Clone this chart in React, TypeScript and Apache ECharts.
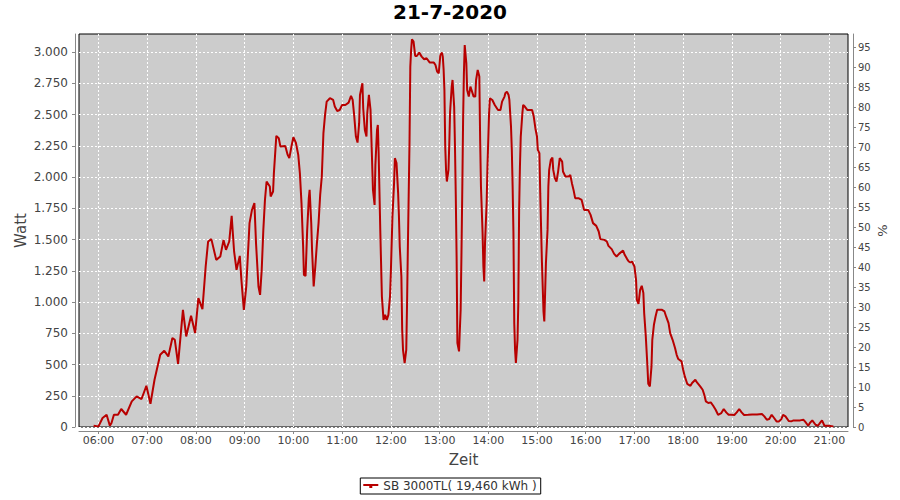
import React, { useEffect, useRef } from "react";
import * as echarts from "echarts";

const chartTitle = "21-7-2020";
const seriesName = "SB 3000TL( 19,460 kWh )";
const xAxisName = "Zeit";
const leftAxisName = "Watt";
const rightAxisName = "%";

// minutes since midnight
const timeMinutes = [
  354, 360, 365, 370, 374, 376, 379, 384, 388, 394,
  401, 407, 413, 419, 424, 429, 436, 441, 446, 451,
  454, 458, 464, 468, 474, 479, 483, 488, 492, 495,
  499, 505, 510, 514, 517, 521, 524, 527, 530, 534,
  536, 539, 542, 546, 549, 552, 554, 557, 559, 561,
  563, 565, 567, 571, 572, 575, 576, 579, 582, 584,
  590, 593, 595, 598, 600, 603, 606, 608, 610, 612,
  613, 615, 617, 619, 620, 622, 623, 625, 627, 629,
  631, 633, 635, 637, 639, 641, 645, 649, 651, 654,
  657, 660, 664, 668, 671, 673, 675, 677, 679, 681,
  682, 685, 686, 688, 690, 691, 693, 695, 696, 698,
  700, 701, 703, 704, 705, 707, 709, 711, 713, 715,
  717, 719, 720, 722, 724, 725, 727, 729, 730, 731,
  733, 734, 735, 737, 739, 740, 741, 742, 743, 744,
  745, 746, 748, 750, 752, 755, 758, 761, 764, 768,
  773, 775, 777, 779, 781, 783, 784, 785, 786, 787,
  788, 789, 791, 792, 793, 795, 796, 798, 799, 800,
  801, 802, 804, 805, 806, 807, 808, 809, 810, 811,
  813, 814, 816, 818, 820, 822, 824, 825, 827, 829,
  830, 831, 833, 834, 835, 836, 838, 839, 841, 842,
  845, 848, 852, 855, 857, 860, 861, 863, 865, 866,
  868, 869, 870, 871, 872, 873, 874, 876, 877, 878,
  879, 880, 882, 883, 885, 888, 892, 894, 896, 898,
  900, 901, 903, 904, 905, 906, 908, 909, 910, 911,
  913, 914, 915, 917, 919, 920, 922, 924, 926, 928,
  931, 932, 935, 939, 941, 943, 945, 947, 951, 955,
  958, 963, 966, 969, 973, 976, 978, 983, 986, 988,
  992, 995, 998, 1001, 1006, 1008, 1011, 1013, 1015, 1017,
  1020, 1022, 1023, 1025, 1027, 1029, 1031, 1032, 1034, 1036,
  1037, 1039, 1041, 1042, 1044, 1046, 1048, 1054, 1057, 1059,
  1062, 1064, 1067, 1070, 1072, 1074, 1078, 1080, 1082, 1085,
  1089, 1091, 1095, 1097, 1101, 1104, 1106, 1108, 1111, 1114,
  1117, 1120, 1123, 1127, 1130, 1133, 1136, 1139, 1143, 1146,
  1149, 1152, 1155, 1160, 1165, 1171, 1177, 1180, 1183, 1186,
  1189, 1192, 1195, 1198, 1201, 1203, 1206, 1210, 1213, 1216,
  1220, 1224, 1228, 1230, 1234, 1236, 1239, 1243, 1246, 1249,
  1251, 1254, 1259, 1265,
];

const watts = [
  10, 5, 72, 98, 10, 32, 98, 98, 144, 98,
  205, 245, 224, 330, 186, 378, 578, 610, 565, 712,
  698, 506, 938, 725, 890, 752, 1032, 944, 1285, 1485,
  1504, 1338, 1365, 1498, 1418, 1485, 1690, 1405, 1258, 1370,
  1178, 938, 1125, 1632, 1738, 1792, 1472, 1125, 1058, 1258,
  1578, 1818, 1965, 1925, 1845, 1885, 2032, 2330, 2312, 2245,
  2250, 2178, 2152, 2258, 2320, 2277, 2178, 2032, 1792, 1445,
  1218, 1210, 1578, 1832, 1898, 1632, 1418, 1125, 1285, 1472,
  1632, 1858, 2005, 2352, 2498, 2605, 2632, 2618, 2565, 2530,
  2538, 2578, 2578, 2597, 2650, 2618, 2485, 2325, 2277, 2432,
  2658, 2752, 2552, 2378, 2325, 2512, 2658, 2538, 2325, 1898,
  1778, 2098, 2378, 2418, 2192, 1578, 1045, 858, 898, 858,
  898, 1045, 1232, 1685, 1952, 2152, 2112, 1872, 1685, 1445,
  1205, 778, 618, 512, 618, 992, 1445, 1858, 2272, 2885,
  3018, 3104, 3085, 2970, 2970, 2997, 2965, 2944, 2952, 2917,
  2917, 2898, 2845, 2832, 2978, 2997, 2965, 2864, 2698, 2245,
  2058, 1965, 2058, 2272, 2525, 2725, 2778, 2565, 2245, 1845,
  1365, 672, 605, 778, 938, 1392, 1898, 2458, 2832, 3058,
  2912, 2698, 2645, 2725, 2685, 2645, 2645, 2778, 2858, 2805,
  2298, 1925, 1552, 1285, 1165, 1472, 1792, 2085, 2512, 2632,
  2618, 2578, 2538, 2538, 2605, 2645, 2672, 2685, 2658, 2618,
  2405, 2218, 1925, 1552, 832, 618, 512, 698, 992, 1738,
  2085, 2325, 2512, 2578, 2565, 2538, 2538, 2538, 2485, 2392,
  2325, 2218, 2192, 1872, 1605, 1338, 925, 845, 1072, 1312,
  1578, 1925, 2058, 2138, 2157, 2058, 1992, 1965, 2045, 2152,
  2125, 2045, 2005, 2005, 2018, 1952, 1898, 1832, 1832, 1818,
  1738, 1738, 1698, 1632, 1610, 1565, 1504, 1498, 1485, 1450,
  1424, 1386, 1365, 1386, 1413, 1378, 1344, 1325, 1317, 1325,
  1285, 1178, 1018, 986, 1098, 1130, 1072, 912, 725, 485,
  346, 325, 485, 698, 818, 885, 938, 938, 925, 885,
  832, 752, 698, 632, 578, 544, 525, 458, 405, 346,
  330, 352, 378, 357, 325, 298, 258, 205, 192, 197,
  170, 138, 98, 112, 144, 117, 98, 98, 96, 117,
  144, 117, 96, 98, 101, 101, 104, 85, 58, 64,
  98, 72, 45, 45, 64, 98, 85, 48, 45, 53,
  53, 53, 58, 45, 10, 32, 53, 18, 10, 37,
  53, 10, 10, 5,
];

// axis ticks
const hourTicks = [360, 420, 480, 540, 600, 660, 720, 780, 840, 900, 960, 1020, 1080, 1140, 1200, 1260];
const wattTicks = [0, 250, 500, 750, 1000, 1250, 1500, 1750, 2000, 2250, 2500, 2750, 3000];
const percentTicks = [0, 5, 10, 15, 20, 25, 30, 35, 40, 45, 50, 55, 60, 65, 70, 75, 80, 85, 90, 95];

const FONT = "DejaVu Sans";
const LINE_COLOR = "#b80000";
const AXIS_COLOR = "#888888";
const LABEL_COLOR = "#444444";

function fmtTime(v: number): string {
  const h = Math.floor(v / 60);
  const m = Math.round(v - h * 60);
  return `${String(h).padStart(2, "0")}:${String(m).padStart(2, "0")}`;
}

function fmtWatt(v: number): string {
  if (v >= 1000) {
    const k = Math.floor(v / 1000);
    return `${k}.${String(v - k * 1000).padStart(3, "0")}`;
  }
  return String(v);
}

export default function App() {
  const ref = useRef<HTMLDivElement>(null);

  useEffect(() => {
    if (!ref.current) return;
    const chart = echarts.init(ref.current, null, { renderer: "svg" });
    const data = timeMinutes.map((t, i) => [t, watts[i]]);

    const gridLine = { show: true, lineStyle: { color: "#ffffff", type: [2, 2], width: 1 } };

    chart.setOption({
      animation: false,
      backgroundColor: "#ffffff",
      title: {
        text: chartTitle,
        left: "center",
        top: 2,
        padding: 0,
        textStyle: { fontFamily: FONT, fontSize: 20, fontWeight: "bold", color: "#000000" },
      },
      legend: {
        left: "center",
        top: 478,
        padding: [2, 4, 2, 3],
        borderColor: "#000000",
        borderWidth: 1,
        itemWidth: 15,
        itemHeight: 4,
        itemGap: 5,
        icon: "path://M0,0H15V2H0Z M6,2H9V4H6Z",
        textStyle: { fontFamily: FONT, fontSize: 12, color: "#333333" },
        data: [{ name: seriesName, itemStyle: { color: LINE_COLOR } }],
      },
      grid: {
        left: 79,
        top: 34,
        width: 769,
        height: 393,
        show: true,
        backgroundColor: "#cccccc",
        borderColor: "#000000",
        borderWidth: 1,
        containLabel: false,
        outerBoundsMode: "none",
      },
      xAxis: {
        type: "value",
        min: 336,
        max: 1283,
        offset: 4,
        name: xAxisName,
        nameLocation: "middle",
        nameGap: 21,
        nameMoveOverlap: false,
        nameTextStyle: { fontFamily: FONT, fontSize: 15, color: LABEL_COLOR },
        axisLine: { show: true, onZero: false, lineStyle: { color: AXIS_COLOR, width: 1 } },
        axisTick: { show: true, length: 3, customValues: hourTicks, lineStyle: { color: AXIS_COLOR } },
        axisLabel: {
          customValues: hourTicks,
          formatter: (v: number) => fmtTime(v),
          margin: 4,
          fontFamily: FONT,
          fontSize: 11,
          color: LABEL_COLOR,
        },
        splitLine: gridLine,
      },
      yAxis: [
        {
          type: "value",
          position: "left",
          min: 0,
          max: 3146,
          offset: 4,
          name: leftAxisName,
          nameLocation: "middle",
          nameGap: 47,
          nameMoveOverlap: false,
          nameTextStyle: { fontFamily: FONT, fontSize: 15, color: LABEL_COLOR },
          axisLine: { show: true, onZero: false, lineStyle: { color: AXIS_COLOR, width: 1 } },
          axisTick: { show: true, length: 3, customValues: wattTicks, lineStyle: { color: AXIS_COLOR } },
          axisLabel: {
            customValues: wattTicks,
            formatter: (v: number) => fmtWatt(v),
            margin: 7,
            fontFamily: FONT,
            fontSize: 12,
            color: LABEL_COLOR,
          },
          splitLine: gridLine,
        },
        {
          type: "value",
          position: "right",
          min: 0,
          max: 98.3,
          offset: 5,
          name: rightAxisName,
          nameLocation: "middle",
          nameGap: 23,
          nameMoveOverlap: false,
          nameTextStyle: { fontFamily: FONT, fontSize: 13, color: LABEL_COLOR },
          axisLine: { show: true, onZero: false, lineStyle: { color: AXIS_COLOR, width: 1 } },
          axisTick: { show: true, length: 3, customValues: percentTicks, lineStyle: { color: AXIS_COLOR } },
          axisLabel: {
            customValues: percentTicks,
            margin: 5,
            fontFamily: FONT,
            fontSize: 10,
            color: LABEL_COLOR,
          },
          splitLine: { show: false },
        },
      ],
      series: [
        {
          name: seriesName,
          type: "line",
          yAxisIndex: 0,
          data,
          showSymbol: false,
          symbol: "none",
          lineStyle: { color: LINE_COLOR, width: 2 },
          itemStyle: { color: LINE_COLOR },
        },
      ],
    });

    return () => chart.dispose();
  }, []);

  return (
    <div
      ref={ref}
      style={{ position: "fixed", left: 0, top: 0, width: 900, height: 500 }}
    />
  );
}
